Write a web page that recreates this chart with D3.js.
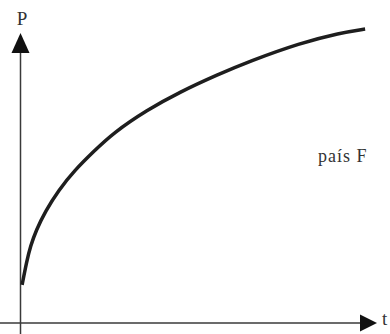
<!DOCTYPE html>
<html>
<head>
<meta charset="utf-8">
<script src="https://cdn.jsdelivr.net/npm/d3@7"></script>
<style>
  body { margin: 0; background: #fff; }
  svg { display: block; }
  text { font-family: "Liberation Serif", "DejaVu Serif", serif; fill: #333; }
</style>
</head>
<body>
<svg id="chart" width="390" height="334"></svg>
<script>
// values (t and P in arbitrary units 0..100)
const tValues = [0.6, 1.9, 3.0, 4.6, 7.3, 10.9, 15.7, 20.9, 26.6, 36.3, 45.7, 56.3, 65.7, 80, 91.4, 98.6];
const pValues = [12.7, 20.5, 25.6, 30.9, 37.3, 44.1, 51, 57, 63.3, 71, 77, 82.7, 87.3, 93.3, 96.7, 98];
const axisLabels = ['t', 'P'];
const curveLabel = 'país F';

const data = tValues.map((t, i) => ({ t, p: pValues[i] }));

const svg = d3.select('#chart');

// scales: origin of the axes sits at (20, 323)
const xScale = d3.scaleLinear().domain([0, 100]).range([20, 370]);
const yScale = d3.scaleLinear().domain([0, 100]).range([323, 23]);

const axisColor = '#3a3a3a';

// x axis line with arrow
svg.append('line')
  .attr('x1', 0).attr('x2', 362)
  .attr('y1', yScale(0)).attr('y2', yScale(0))
  .attr('stroke', axisColor).attr('stroke-width', 1.5);
svg.append('path')
  .attr('d', `M360,${yScale(0) - 8.5} L377,${yScale(0)} L360,${yScale(0) + 8.5} Z`)
  .attr('fill', '#111');

// y axis line with arrow
svg.append('line')
  .attr('x1', xScale(0) + 0.5).attr('x2', xScale(0) + 0.5)
  .attr('y1', 334).attr('y2', 50)
  .attr('stroke', axisColor).attr('stroke-width', 1.5);
svg.append('path')
  .attr('d', `M${xScale(0) + 0.5 - 9},53 L${xScale(0) + 0.5},33 L${xScale(0) + 0.5 + 9},53 Z`)
  .attr('fill', '#111');

// axis labels
svg.append('text')
  .attr('x', 382).attr('y', 325)
  .attr('font-size', 19)
  .text(axisLabels[0]);
svg.append('text')
  .attr('x', 22).attr('y', 25)
  .attr('text-anchor', 'middle')
  .attr('font-size', 19)
  .text(axisLabels[1]);

// the curve
const line = d3.line()
  .x(d => xScale(d.t))
  .y(d => yScale(d.p))
  .curve(d3.curveBasis);

svg.append('path')
  .attr('d', line(data))
  .attr('fill', 'none')
  .attr('stroke', '#1e1e1e')
  .attr('stroke-width', 3.5)
  .attr('stroke-linecap', 'butt');

// curve label
svg.append('text')
  .attr('x', 318).attr('y', 162)
  .attr('font-size', 18)
  .attr('letter-spacing', 1)
  .text(curveLabel);
</script>
</body>
</html>
